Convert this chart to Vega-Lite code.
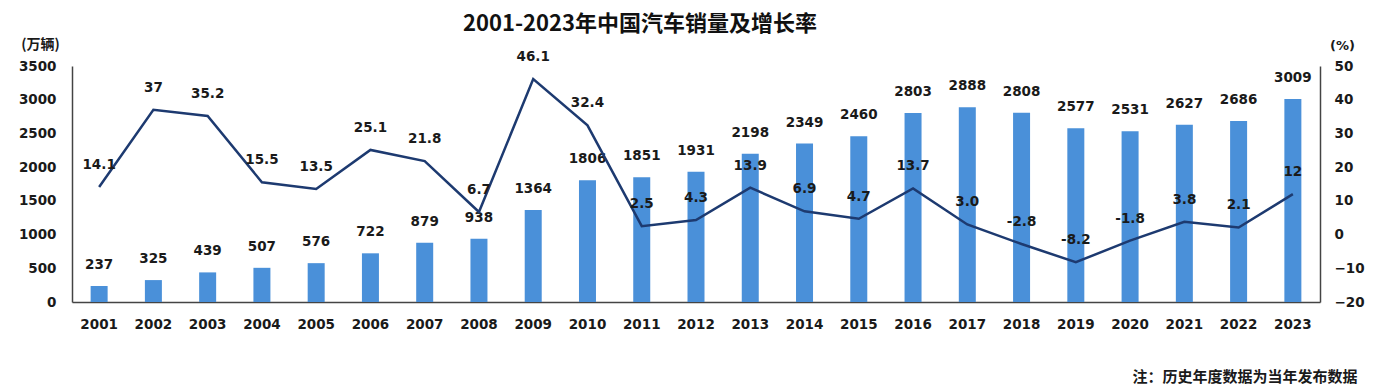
{
  "$schema": "https://vega.github.io/schema/vega-lite/v6.json",
  "autosize": {"type": "none"},
  "padding": {"left": 72, "top": 66, "right": 64, "bottom": 90},
  "width": 1248,
  "height": 236,
  "background": "white",
  "title": {
    "text": "2001-2023年中国汽车销量及增长率",
    "font": "Noto Sans CJK SC",
    "fontSize": 22,
    "fontWeight": "bold",
    "color": "#111111",
    "anchor": "middle",
    "dx": -56,
    "offset": 1
  },
  "config": {
    "view": {"stroke": null},
    "axis": {
      "labelFont": "DejaVu Sans",
      "labelFontSize": 13.5,
      "labelFontWeight": "bold",
      "labelColor": "#1a1a1a",
      "labelOverlap": false,
      "domainColor": "#444444",
      "domainWidth": 1.5,
      "ticks": false,
      "grid": false,
      "titleFont": "Noto Sans CJK SC",
      "titleFontWeight": "bold",
      "titleColor": "#1a1a1a"
    }
  },
  "data": {
    "values": [
      {"year": "2001", "sales": 237, "growth": 14.1, "glabel": "14.1"},
      {"year": "2002", "sales": 325, "growth": 37, "glabel": "37"},
      {"year": "2003", "sales": 439, "growth": 35.2, "glabel": "35.2"},
      {"year": "2004", "sales": 507, "growth": 15.5, "glabel": "15.5"},
      {"year": "2005", "sales": 576, "growth": 13.5, "glabel": "13.5"},
      {"year": "2006", "sales": 722, "growth": 25.1, "glabel": "25.1"},
      {"year": "2007", "sales": 879, "growth": 21.8, "glabel": "21.8"},
      {"year": "2008", "sales": 938, "growth": 6.7, "glabel": "6.7"},
      {"year": "2009", "sales": 1364, "growth": 46.1, "glabel": "46.1"},
      {"year": "2010", "sales": 1806, "growth": 32.4, "glabel": "32.4"},
      {"year": "2011", "sales": 1851, "growth": 2.5, "glabel": "2.5"},
      {"year": "2012", "sales": 1931, "growth": 4.3, "glabel": "4.3"},
      {"year": "2013", "sales": 2198, "growth": 13.9, "glabel": "13.9"},
      {"year": "2014", "sales": 2349, "growth": 6.9, "glabel": "6.9"},
      {"year": "2015", "sales": 2460, "growth": 4.7, "glabel": "4.7"},
      {"year": "2016", "sales": 2803, "growth": 13.7, "glabel": "13.7"},
      {"year": "2017", "sales": 2888, "growth": 3.0, "glabel": "3.0"},
      {"year": "2018", "sales": 2808, "growth": -2.8, "glabel": "-2.8"},
      {"year": "2019", "sales": 2577, "growth": -8.2, "glabel": "-8.2"},
      {"year": "2020", "sales": 2531, "growth": -1.8, "glabel": "-1.8"},
      {"year": "2021", "sales": 2627, "growth": 3.8, "glabel": "3.8"},
      {"year": "2022", "sales": 2686, "growth": 2.1, "glabel": "2.1"},
      {"year": "2023", "sales": 3009, "growth": 12, "glabel": "12"}
    ]
  },
  "encoding": {
    "x": {
      "field": "year",
      "type": "ordinal",
      "scale": {"paddingInner": 0, "paddingOuter": 0},
      "axis": {
        "labelAngle": 0,
        "labelPadding": 15,
        "title": "注：历史年度数据为当年发布数据",
        "titleFontSize": 15,
        "titleAlign": "right",
        "titleBaseline": "middle",
        "titleX": 1285,
        "titleY": 74
      }
    }
  },
  "layer": [
    {
      "layer": [
        {
          "mark": {"type": "bar", "size": 17, "color": "#4a90d9"},
          "encoding": {
            "y": {
              "field": "sales",
              "type": "quantitative",
              "scale": {"domain": [0, 3500], "nice": false},
              "axis": {
                "values": [0, 500, 1000, 1500, 2000, 2500, 3000, 3500],
                "tickCount": 8,
                "labelOverlap": false,
                "format": "d",
                "labelPadding": 16,
                "title": "(万辆)",
                "titleFontSize": 14,
                "titleAngle": 0,
                "titleAlign": "center",
                "titleBaseline": "middle",
                "titleX": -32,
                "titleY": -22
              }
            }
          }
        },
        {
          "mark": {"type": "text", "font": "DejaVu Sans", "fontSize": 13.5, "fontWeight": "bold", "color": "#1a1a1a", "baseline": "middle", "dy": -21},
          "encoding": {
            "y": {"field": "sales", "type": "quantitative"},
            "text": {"field": "sales", "type": "quantitative", "format": "d"}
          }
        }
      ]
    },
    {
      "layer": [
        {
          "mark": {"type": "line", "color": "#1d3a70", "strokeWidth": 2.5},
          "encoding": {
            "y": {
              "field": "growth",
              "type": "quantitative",
              "scale": {"domain": [-20, 50], "nice": false},
              "axis": {
                "orient": "right",
                "values": [-20, -10, 0, 10, 20, 30, 40, 50],
                "tickCount": 8,
                "labelOverlap": false,
                "format": "d",
                "labelPadding": 14,
                "title": "(%)",
                "titleFont": "DejaVu Sans",
                "titleFontSize": 13,
                "titleAngle": 0,
                "titleAlign": "center",
                "titleBaseline": "middle",
                "titleX": 22,
                "titleY": -21
              }
            }
          }
        },
        {
          "mark": {"type": "text", "font": "DejaVu Sans", "fontSize": 13.5, "fontWeight": "bold", "color": "#1a1a1a", "baseline": "middle", "dy": -22},
          "encoding": {
            "y": {"field": "growth", "type": "quantitative"},
            "text": {"field": "glabel", "type": "nominal"}
          }
        }
      ]
    }
  ],
  "resolve": {"scale": {"y": "independent"}}
}
